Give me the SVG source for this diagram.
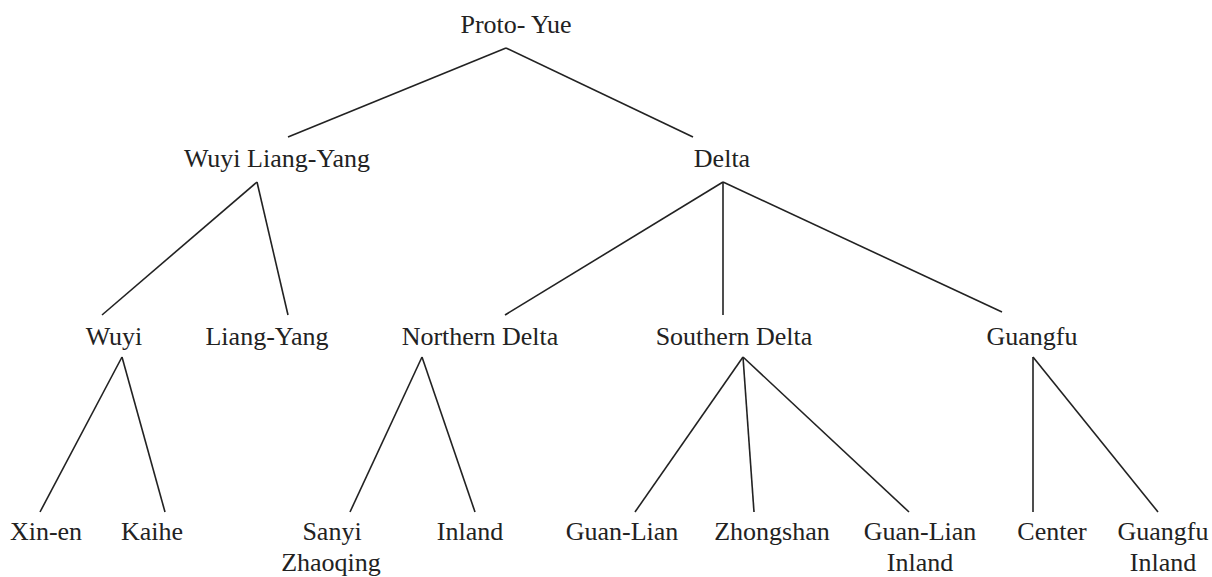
<svg xmlns="http://www.w3.org/2000/svg" width="1212" height="577" viewBox="0 0 1212 577">
<style>
text{font-family:"Liberation Serif","Times New Roman",serif;font-size:26px;fill:#222;text-anchor:middle}
.c line{stroke:#222;stroke-width:1.6;fill:none}
</style>
<rect width="1212" height="577" fill="#fff"/>
<g class="c" id="connectors">
<line x1="506" y1="48" x2="288" y2="137"/>
<line x1="506" y1="48" x2="693" y2="137"/>
<line x1="257" y1="182" x2="102" y2="315"/>
<line x1="257" y1="182" x2="288" y2="315"/>
<line x1="723" y1="182" x2="505" y2="315"/>
<line x1="723" y1="182" x2="723" y2="315"/>
<line x1="723" y1="182" x2="1002" y2="312"/>
<line x1="122" y1="357" x2="40" y2="512"/>
<line x1="122" y1="357" x2="165" y2="512"/>
<line x1="422" y1="357" x2="350" y2="512"/>
<line x1="422" y1="357" x2="475" y2="512"/>
<line x1="743" y1="357" x2="635" y2="512"/>
<line x1="743" y1="357" x2="754" y2="512"/>
<line x1="743" y1="357" x2="909" y2="512"/>
<line x1="1033" y1="357" x2="1033" y2="512"/>
<line x1="1033" y1="357" x2="1158" y2="512"/>
</g>
<g id="proto-yue"><text x="516" y="33">Proto- Yue</text></g>
<g id="wuyi-liang-yang"><text x="277" y="167">Wuyi Liang-Yang</text></g>
<g id="delta"><text x="722" y="167">Delta</text></g>
<g id="wuyi"><text x="114" y="345">Wuyi</text></g>
<g id="liang-yang"><text x="267" y="345">Liang-Yang</text></g>
<g id="northern-delta"><text x="480" y="345">Northern Delta</text></g>
<g id="southern-delta"><text x="734" y="345">Southern Delta</text></g>
<g id="guangfu"><text x="1032" y="345">Guangfu</text></g>
<g id="xin-en"><text x="46" y="540">Xin-en</text></g>
<g id="kaihe"><text x="152" y="540">Kaihe</text></g>
<g id="sanyi-zhaoqing"><text x="332" y="540">Sanyi</text><text x="331" y="571">Zhaoqing</text></g>
<g id="inland"><text x="470" y="540">Inland</text></g>
<g id="guan-lian"><text x="622" y="540">Guan-Lian</text></g>
<g id="zhongshan"><text x="772" y="540">Zhongshan</text></g>
<g id="guan-lian-inland"><text x="920" y="540">Guan-Lian</text><text x="920" y="571">Inland</text></g>
<g id="center"><text x="1052" y="540">Center</text></g>
<g id="guangfu-inland"><text x="1163" y="540">Guangfu</text><text x="1163" y="571">Inland</text></g>
</svg>
